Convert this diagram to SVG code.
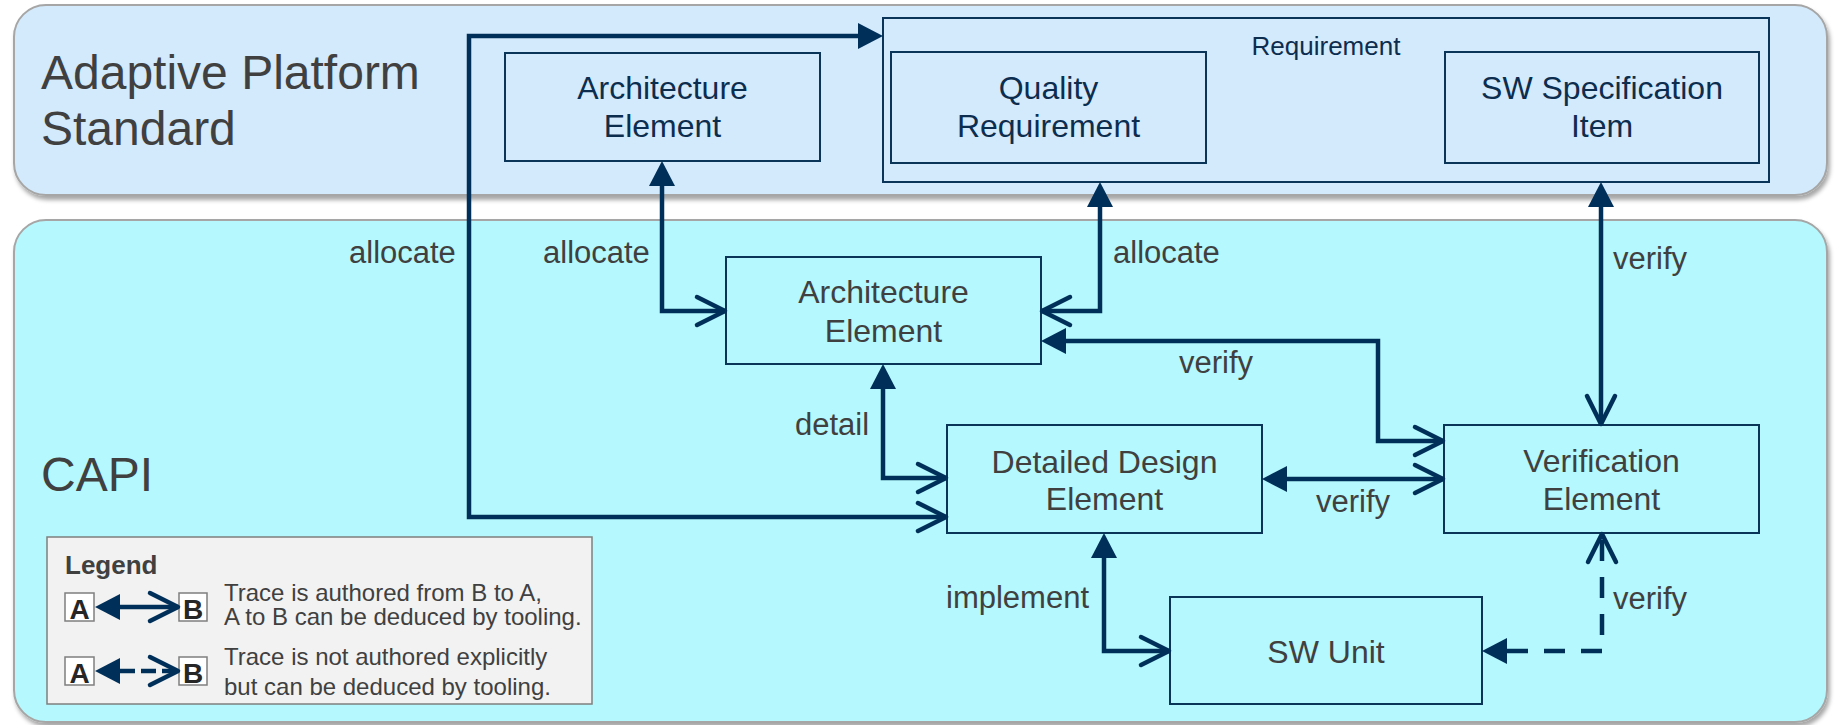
<svg xmlns="http://www.w3.org/2000/svg" width="1835" height="725" viewBox="0 0 1835 725">
<defs>
<style>
text{font-family:"Liberation Sans",Arial,sans-serif}
.ttl{font-size:48px;fill:#404040}
.lbl{font-size:31px;fill:#404040}
.bt{font-size:32px;fill:#404040;text-anchor:middle}
.btn{font-size:32px;fill:#0d2d4e;text-anchor:middle}
.box{fill:none;stroke:#0b3558;stroke-width:2}
.cn{fill:none;stroke:#00305a;stroke-width:4.5;stroke-linejoin:miter}
.dash{stroke-dasharray:21 16}
.lg{font-size:24px;fill:#404040}
.lgb{fill:#ffffff;stroke:#7f7f7f;stroke-width:1.5}
.lgl{font-size:28px;font-weight:bold;fill:#262626;text-anchor:middle}
</style>
<filter id="sh" x="-3%" y="-5%" width="106%" height="115%">
<feDropShadow dx="2" dy="4" stdDeviation="2" flood-color="#000" flood-opacity="0.35"/>
</filter>
<marker id="tri" markerUnits="userSpaceOnUse" orient="auto-start-reverse" refX="0" refY="0" markerWidth="30" markerHeight="30" viewBox="0 -15 30 30" overflow="visible">
<path d="M0,-13 L25,0 L0,13 Z" fill="#00305a"/>
</marker>
<marker id="chev" markerUnits="userSpaceOnUse" orient="auto-start-reverse" refX="0" refY="0" markerWidth="40" markerHeight="40" viewBox="-35 -20 40 40" overflow="visible">
<path d="M-28,-14 L0,0 L-28,14" fill="none" stroke="#00305a" stroke-width="4.5" stroke-linecap="round" stroke-linejoin="round" stroke-dasharray="none"/>
</marker>
</defs>

<g id="panel-aps">
<rect x="14" y="5" width="1813" height="190" rx="32" fill="#d3eafc" stroke="#a6a6a6" stroke-width="2" filter="url(#sh)"/>
<text class="ttl" x="41" y="89">Adaptive Platform</text>
<text class="ttl" x="41" y="145">Standard</text>
</g>
<g id="panel-capi">
<rect x="14" y="220" width="1813" height="502" rx="32" fill="#b5f8fd" stroke="#a6a6a6" stroke-width="2" filter="url(#sh)"/>
<text class="ttl" x="41" y="491">CAPI</text>
</g>

<g id="aps-arch">
<rect class="box" x="505" y="53" width="315" height="108"/>
<text class="btn" x="662.5" y="99">Architecture</text>
<text class="btn" x="662.5" y="137">Element</text>
</g>
<g id="requirement">
<rect class="box" x="883" y="18" width="886" height="164"/>
<text class="btn" x="1326" y="55" style="font-size:26px">Requirement</text>
</g>
<g id="quality-req">
<rect class="box" x="891" y="52" width="315" height="111"/>
<text class="btn" x="1048.5" y="99">Quality</text>
<text class="btn" x="1048.5" y="137">Requirement</text>
</g>
<g id="sw-spec">
<rect class="box" x="1445" y="52" width="314" height="111"/>
<text class="btn" x="1602" y="99">SW Specification</text>
<text class="btn" x="1602" y="137">Item</text>
</g>

<g id="capi-arch">
<rect class="box" x="726" y="257" width="315" height="107"/>
<text class="bt" x="883.5" y="303">Architecture</text>
<text class="bt" x="883.5" y="342">Element</text>
</g>
<g id="detailed-design">
<rect class="box" x="947" y="425" width="315" height="108"/>
<text class="bt" x="1104.5" y="473">Detailed Design</text>
<text class="bt" x="1104.5" y="510">Element</text>
</g>
<g id="verification">
<rect class="box" x="1444" y="425" width="315" height="108"/>
<text class="bt" x="1601.5" y="472">Verification</text>
<text class="bt" x="1601.5" y="510">Element</text>
</g>
<g id="sw-unit">
<rect class="box" x="1170" y="597" width="312" height="107"/>
<text class="bt" x="1326" y="663">SW Unit</text>
</g>

<g id="connectors">
<path class="cn" d="M858,36 H469 V517 H946" marker-start="url(#tri)" marker-end="url(#chev)"/>
<path class="cn" d="M662,186 V311 H725" marker-start="url(#tri)" marker-end="url(#chev)"/>
<path class="cn" d="M1100,207 V311 H1042" marker-start="url(#tri)" marker-end="url(#chev)"/>
<path class="cn" d="M1066,341 H1378 V441 H1443" marker-start="url(#tri)" marker-end="url(#chev)"/>
<path class="cn" d="M1601,207 V424" marker-start="url(#tri)" marker-end="url(#chev)"/>
<path class="cn" d="M883,389 V478 H946" marker-start="url(#tri)" marker-end="url(#chev)"/>
<path class="cn" d="M1287,479 H1443" marker-start="url(#tri)" marker-end="url(#chev)"/>
<path class="cn" d="M1104,558 V651 H1169" marker-start="url(#tri)" marker-end="url(#chev)"/>
<path class="cn dash" d="M1507,651 H1602 V534" marker-start="url(#tri)" marker-end="url(#chev)"/>
<text class="lbl" x="349" y="263">allocate</text>
<text class="lbl" x="543" y="263">allocate</text>
<text class="lbl" x="1113" y="263">allocate</text>
<text class="lbl" x="1613" y="269">verify</text>
<text class="lbl" x="1179" y="373">verify</text>
<text class="lbl" x="795" y="435">detail</text>
<text class="lbl" x="1316" y="512">verify</text>
<text class="lbl" x="946" y="608">implement</text>
<text class="lbl" x="1613" y="609">verify</text>
</g>

<g id="legend">
<rect x="47" y="537" width="545" height="167" fill="#f2f2f2" stroke="#7f7f7f" stroke-width="1.5"/>
<text x="65" y="574" style="font-size:26px;font-weight:bold;fill:#404040">Legend</text>
<rect class="lgb" x="65" y="593" width="29" height="28"/>
<text class="lgl" x="79.5" y="619">A</text>
<rect class="lgb" x="179" y="593" width="28" height="28"/>
<text class="lgl" x="193" y="619">B</text>
<path class="cn" d="M120,607 H178" marker-start="url(#tri)" marker-end="url(#chev)"/>
<rect class="lgb" x="65" y="657" width="29" height="28"/>
<text class="lgl" x="79.5" y="683">A</text>
<rect class="lgb" x="179" y="657" width="28" height="28"/>
<text class="lgl" x="193" y="683">B</text>
<path class="cn" d="M120,671 H178" style="stroke-dasharray:15 6" marker-start="url(#tri)" marker-end="url(#chev)"/>
<text class="lg" x="224" y="601">Trace is authored from B to A,</text>
<text class="lg" x="224" y="625">A to B can be deduced by tooling.</text>
<text class="lg" x="224" y="665">Trace is not authored explicitly</text>
<text class="lg" x="224" y="695">but can be deduced by tooling.</text>
</g>
</svg>
